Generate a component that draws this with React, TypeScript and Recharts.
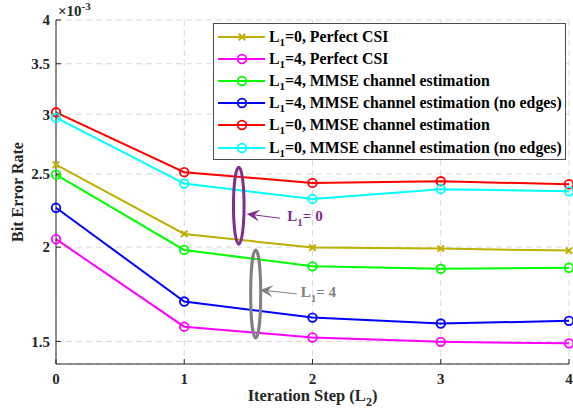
import {
  LineChart,
  Line,
  XAxis,
  YAxis,
  CartesianGrid,
  Legend,
  ReferenceDot,
} from "recharts";

const FONT = '"Liberation Serif", "Times New Roman", serif';
const AXIS = "#262626";

const steps = [0, 1, 2, 3, 4];
const yTicks = [1.5, 2, 2.5, 3, 3.5, 4];

// BER values, in units of 1e-3
const perfectL0 = [2.572, 2.082, 1.997, 1.991, 1.979];
const perfectL4 = [2.049, 1.569, 1.518, 1.498, 1.491];
const mmseL4 = [2.495, 1.983, 1.886, 1.872, 1.878];
const mmseL4NoEdges = [2.255, 1.694, 1.613, 1.584, 1.597];
const mmseL0 = [3.018, 2.514, 2.433, 2.445, 2.423];
const mmseL0NoEdges = [2.969, 2.428, 2.317, 2.387, 2.371];

type Series = {
  key: string;
  values: number[];
  l1: string;
  text: string;
  color: string;
  marker: "x" | "o";
};

const series: Series[] = [
  { key: "perfectL0", values: perfectL0, l1: "0", text: ", Perfect CSI", color: "#BDB000", marker: "x" },
  { key: "perfectL4", values: perfectL4, l1: "4", text: ", Perfect CSI", color: "#FF00FF", marker: "o" },
  { key: "mmseL4", values: mmseL4, l1: "4", text: ", MMSE channel estimation", color: "#00FF00", marker: "o" },
  { key: "mmseL4NoEdges", values: mmseL4NoEdges, l1: "4", text: ", MMSE channel estimation (no edges)", color: "#0000FF", marker: "o" },
  { key: "mmseL0", values: mmseL0, l1: "0", text: ", MMSE channel estimation", color: "#FF0000", marker: "o" },
  { key: "mmseL0NoEdges", values: mmseL0NoEdges, l1: "0", text: ", MMSE channel estimation (no edges)", color: "#00FFFF", marker: "o" },
];

const rows = steps.map((s, i) => {
  const row: Record<string, number> = { step: s };
  series.forEach((sr) => (row[sr.key] = sr.values[i]));
  return row;
});

function Marker({ cx, cy, color, marker }: { cx: number; cy: number; color: string; marker: string }) {
  if (marker === "x") {
    const d = 3.2;
    return (
      <path
        d={`M${cx - d},${cy - d}L${cx + d},${cy + d}M${cx - d},${cy + d}L${cx + d},${cy - d}`}
        stroke={color}
        strokeWidth={2}
        fill="none"
      />
    );
  }
  return <circle cx={cx} cy={cy} r={4.3} stroke={color} strokeWidth={1.8} fill="none" />;
}

const dotFor = (s: Series) => (p: any) => (
  <g key={`${s.key}-${p.index}`}>
    <Marker cx={p.cx} cy={p.cy} color={s.color} marker={s.marker} />
  </g>
);

function Arrow({ x1, y1, x2, y2, color }: { x1: number; y1: number; x2: number; y2: number; color: string }) {
  const a = Math.atan2(y2 - y1, x2 - x1);
  const len = 13;
  const w = 6;
  const bx = x2 - len * Math.cos(a);
  const by = y2 - len * Math.sin(a);
  const nx = -Math.sin(a);
  const ny = Math.cos(a);
  const mx = x2 - len * 0.6 * Math.cos(a);
  const my = y2 - len * 0.6 * Math.sin(a);
  return (
    <g>
      <line x1={x1} y1={y1} x2={mx} y2={my} stroke={color} strokeWidth={1} />
      <path
        d={`M${x2},${y2}L${bx + nx * w},${by + ny * w}L${mx},${my}L${bx - nx * w},${by - ny * w}Z`}
        fill={color}
      />
    </g>
  );
}

function Note({ cx, cy, color, rx, ry, arrow, textAt, l1 }: any) {
  return (
    <g>
      <ellipse cx={cx} cy={cy} rx={rx} ry={ry} fill="none" stroke={color} strokeWidth={3} />
      <Arrow x1={cx + arrow[0]} y1={cy + arrow[1]} x2={cx + arrow[2]} y2={cy + arrow[3]} color={color} />
      <text
        x={cx + textAt[0]}
        y={cy + textAt[1]}
        fill={color}
        fontFamily={FONT}
        fontWeight="bold"
        fontSize={15}
      >
        L
        <tspan fontSize={11} dy={5}>
          1
        </tspan>
        <tspan dy={-5}>= {l1}</tspan>
      </text>
    </g>
  );
}

function LegendBox() {
  return (
    <div
      style={{
        width: 353,
        height: 137,
        boxSizing: "border-box",
        border: "1px solid #4d4d4d",
        background: "#fff",
        paddingTop: 2,
        fontFamily: FONT,
        fontWeight: "bold",
        fontSize: 15.8,
        color: "#000",
      }}
    >
      {series.map((s) => (
        <div key={s.key} style={{ display: "flex", alignItems: "center", height: 22.1 }}>
          <svg width={55} height={22} style={{ flex: "none" }}>
            <line x1={4} y1={11} x2={51} y2={11} stroke={s.color} strokeWidth={2} />
            <Marker cx={28} cy={11} color={s.color} marker={s.marker} />
          </svg>
          <span style={{ whiteSpace: "nowrap", marginLeft: 0 }}>
            L
            <span style={{ fontSize: 11, position: "relative", top: 4 }}>1</span>
            {`=${s.l1}${s.text}`}
          </span>
        </div>
      ))}
    </div>
  );
}

const TickText = (dy: string) => (p: any) => (
  <text
    x={p.x}
    y={p.y}
    dy={dy}
    textAnchor={p.textAnchor}
    fill={AXIS}
    fontFamily={FONT}
    fontWeight="bold"
    fontSize={15}
  >
    {p.payload.value}
  </text>
);

export default function App() {
  return (
    <div style={{ position: "absolute", left: 0, top: 0, background: "#fff" }}>
      <LineChart width={573} height={411} data={rows} margin={{ top: 20, right: 4, bottom: 0, left: 0 }}>
        <CartesianGrid stroke="#d9d9d9" strokeDasharray="6 4" />
        <XAxis
          dataKey="step"
          type="number"
          domain={[0, 4]}
          ticks={steps}
          height={47}
          stroke={AXIS}
          tickSize={-5}
          tickMargin={14}
          tick={TickText("0.71em")}
          label={(p: any) => {
            const vb = p.viewBox;
            return (
              <text
                x={vb.x + vb.width / 2}
                y={vb.y + 37}
                textAnchor="middle"
                fill={AXIS}
                fontFamily={FONT}
                fontWeight="bold"
                fontSize={16.5}
              >
                Iteration Step (L
                <tspan fontSize={12} dy={5}>
                  2
                </tspan>
                <tspan dy={-5}>)</tspan>
              </text>
            );
          }}
        />
        <XAxis
          xAxisId="top"
          orientation="top"
          type="number"
          domain={[0, 4]}
          ticks={steps}
          height={0}
          stroke={AXIS}
          tickSize={-5}
          tick={false}
        />
        <YAxis
          type="number"
          scale="log"
          domain={[1.4, 4]}
          allowDataOverflow
          ticks={yTicks}
          width={56}
          stroke={AXIS}
          tickSize={-5}
          tickMargin={11}
          tick={TickText("0.355em")}
          label={(p: any) => {
            const vb = p.viewBox;
            const cx = 17;
            const cy = vb.y + vb.height / 2;
            return (
              <text
                x={cx}
                y={cy}
                transform={`rotate(-90 ${cx} ${cy})`}
                textAnchor="middle"
                dominantBaseline="central"
                fill={AXIS}
                fontFamily={FONT}
                fontWeight="bold"
                fontSize={16}
              >
                Bit Error Rate
              </text>
            );
          }}
        />
        <YAxis
          yAxisId="right"
          orientation="right"
          type="number"
          scale="log"
          domain={[1.4, 4]}
          allowDataOverflow
          ticks={yTicks}
          width={0}
          stroke={AXIS}
          tickSize={-5}
          tick={false}
        />
        {series.map((s) => (
          <Line
            key={s.key}
            dataKey={s.key}
            type="linear"
            stroke={s.color}
            strokeWidth={2}
            dot={dotFor(s)}
            activeDot={false}
            isAnimationActive={false}
          />
        ))}
        <ReferenceDot
          x={0}
          y={4}
          r={0}
          ifOverflow="visible"
          shape={(p: any) => (
            <text x={p.cx + 2} y={p.cy - 4} fill={AXIS} fontFamily={FONT} fontWeight="bold" fontSize={15}>
              ×10
              <tspan fontSize={11} dy={-6}>
                -3
              </tspan>
            </text>
          )}
        />
        <ReferenceDot
          x={1.425}
          y={2.27}
          r={0}
          ifOverflow="visible"
          shape={(p: any) => (
            <Note
              cx={p.cx}
              cy={p.cy}
              color="#7E2F8E"
              rx={5.3}
              ry={38.5}
              arrow={[41.3, 12.6, 8, 8.3]}
              textAt={[48.6, 15]}
              l1="0"
            />
          )}
        />
        <ReferenceDot
          x={1.557}
          y={1.734}
          r={0}
          ifOverflow="visible"
          shape={(p: any) => (
            <Note
              cx={p.cx}
              cy={p.cy}
              color="#808080"
              rx={5}
              ry={44}
              arrow={[41, 0, 4.3, -4]}
              textAt={[45, 3.3]}
              l1="4"
            />
          )}
        />
        <Legend
          layout="vertical"
          align="center"
          verticalAlign="middle"
          wrapperStyle={{ left: 213, top: 23, width: 353, height: 137 }}
          content={() => <LegendBox />}
        />
      </LineChart>
    </div>
  );
}
